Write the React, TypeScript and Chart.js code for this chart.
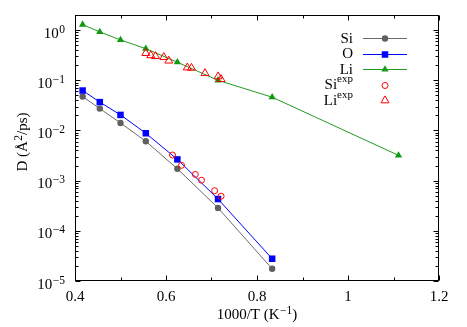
import React, { useEffect, useRef } from 'react';
import { Chart, registerables } from 'chart.js';
Chart.register(...registerables);

// ---- data (1000/T in 1/K, D in A^2/ps) ----
const simX = [0.4167, 0.4545, 0.5, 0.5556, 0.625, 0.7143, 0.8333];
const siY = [0.0474, 0.0273, 0.0141, 0.00608, 0.00172, 2.86e-4, 1.75e-5];
const oY = [0.0625, 0.0367, 0.0204, 0.0088, 0.00265, 4.3e-4, 2.78e-5];
const liX = [0.4167, 0.4545, 0.5, 0.5556, 0.625, 0.7143, 0.8333, 1.1111];
const liY = [1.29, 0.92, 0.637, 0.427, 0.229, 0.1, 0.046, 0.00319];
const siExpX = [0.6143, 0.6341, 0.6644, 0.678, 0.7068, 0.7211];
const siExpY = [0.00324, 0.00202, 0.00133, 0.00102, 6.3e-4, 4.9e-4];
const liExpX = [0.5556, 0.5666, 0.5769, 0.5952, 0.6062, 0.6468, 0.656, 0.6857, 0.7145, 0.7209];
const liExpY = [0.347, 0.313, 0.302, 0.288, 0.245, 0.179, 0.176, 0.138, 0.119, 0.105];

const legendNames = ['Si', 'O', 'Li', 'Si', 'Li'];
const legendSups = ['', '', '', 'exp', 'exp'];

const xTickValues = [0.4, 0.6, 0.8, 1.0, 1.2];
const xMinorValues = [0.5, 0.7, 0.9, 1.1];
const yDecades = [-5, -4, -3, -2, -1, 0];
const yTickBase = '10';

// rich text: [text, isSuperscript]
const xTitleParts: [string, boolean][] = [['1000/T (K', false], ['−1', true], [')', false]];
const yTitleParts: [string, boolean][] = [['D (Å', false], ['2', true], ['/ps)', false]];

const FONT = "'Liberation Serif', 'Times New Roman', serif";
const MAIN = 15;
const SUPSZ = 11.5;

const pts = (xs: number[], ys: number[]) => xs.map((x, i) => ({ x, y: ys[i] }));

function richWidth(ctx: CanvasRenderingContext2D, parts: [string, boolean][]) {
  let w = 0;
  parts.forEach(([t, s]) => {
    ctx.font = `${s ? SUPSZ : MAIN}px ${FONT}`;
    w += ctx.measureText(t).width + (s ? 0.5 : 0);
  });
  return w;
}

// draws parts starting at x (left), baseline y
function drawRich(ctx: CanvasRenderingContext2D, parts: [string, boolean][], x: number, y: number) {
  ctx.textAlign = 'left';
  ctx.textBaseline = 'alphabetic';
  let cx = x;
  parts.forEach(([t, s]) => {
    ctx.font = `${s ? SUPSZ : MAIN}px ${FONT}`;
    ctx.fillText(t, cx + (s ? 0.5 : 0), s ? y - 5 : y);
    cx += ctx.measureText(t).width + (s ? 0.5 : 0);
  });
}

function drawMarker(ctx: CanvasRenderingContext2D, style: string, r: number, x: number, y: number, fill: string, stroke: string, filled: boolean) {
  ctx.beginPath();
  if (style === 'circle') {
    ctx.arc(x, y, r, 0, Math.PI * 2);
  } else if (style === 'rect') {
    const s = Math.SQRT1_2 * r;
    ctx.rect(x - s, y - s, 2 * s, 2 * s);
  } else if (style === 'triangle') {
    ctx.moveTo(x, y - r);
    ctx.lineTo(x + 0.866 * r, y + 0.5 * r);
    ctx.lineTo(x - 0.866 * r, y + 0.5 * r);
    ctx.closePath();
  }
  if (filled) {
    ctx.fillStyle = fill;
    ctx.fill();
  } else {
    ctx.strokeStyle = stroke;
    ctx.lineWidth = 1;
    ctx.stroke();
  }
}

const framePlugin = {
  id: 'frame',
  afterDatasetsDraw(chart: any) {
    const { ctx, chartArea: a, scales } = chart;
    const xs = scales.x;
    const ys = scales.y;
    ctx.save();
    ctx.strokeStyle = '#000';
    ctx.lineWidth = 1;
    const L = Math.round(a.left) + 0.5;
    const R = Math.round(a.right) - 0.5;
    const T = Math.round(a.top) + 0.5;
    const B = Math.round(a.bottom) - 0.5;
    ctx.strokeRect(L, T, R - L, B - T);
    const vtick = (v: number, len: number) => {
      const px = Math.round(xs.getPixelForValue(v)) + 0.5;
      ctx.beginPath();
      ctx.moveTo(px, B); ctx.lineTo(px, B - len);
      ctx.moveTo(px, T); ctx.lineTo(px, T + len);
      ctx.stroke();
    };
    const htick = (v: number, len: number) => {
      const py = Math.round(ys.getPixelForValue(v)) + 0.5;
      ctx.beginPath();
      ctx.moveTo(L, py); ctx.lineTo(L + len, py);
      ctx.moveTo(R, py); ctx.lineTo(R - len, py);
      ctx.stroke();
    };
    xTickValues.forEach((v) => vtick(v, 5));
    xMinorValues.forEach((v) => vtick(v, 3));
    yDecades.forEach((d) => {
      htick(Math.pow(10, d), 5);
      for (let k = 2; k <= 9; k++) {
        const v = k * Math.pow(10, d);
        if (v < ys.max) htick(v, 3);
      }
    });

    ctx.fillStyle = '#000';
    // y tick labels: 10^n
    yDecades.forEach((d) => {
      const py = ys.getPixelForValue(Math.pow(10, d));
      const parts: [string, boolean][] = [[yTickBase, false], [(d < 0 ? '−' : '') + String(Math.abs(d)), true]];
      const w = richWidth(ctx, parts);
      drawRich(ctx, parts, a.left - 10 - w, py + 7.5);
    });

    // x title
    const xw = richWidth(ctx, xTitleParts);
    drawRich(ctx, xTitleParts, (a.left + a.right) / 2 - xw / 2, 319);

    // y title (rotated)
    const yw = richWidth(ctx, yTitleParts);
    ctx.save();
    ctx.translate(26.5, (a.top + a.bottom) / 2 - 6);
    ctx.rotate(-Math.PI / 2);
    drawRich(ctx, yTitleParts, -yw / 2, 0);
    ctx.restore();

    // legend
    const rx = a.right - 86;
    chart.data.datasets.forEach((ds: any, i: number) => {
      const y = a.top + 23 + i * 15.5;
      ctx.fillStyle = '#000';
      ctx.textBaseline = 'middle';
      ctx.textAlign = 'right';
      let tx = rx;
      if (legendSups[i]) {
        ctx.font = `11px ${FONT}`;
        const w = ctx.measureText(legendSups[i]).width;
        ctx.fillText(legendSups[i], rx, y - 5);
        tx = rx - w;
      }
      ctx.font = `15px ${FONT}`;
      ctx.fillText(legendNames[i], tx, y + 1);
      const ly = Math.round(y) + 0.5;
      if (ds.showLine) {
        ctx.strokeStyle = ds.borderColor;
        ctx.lineWidth = 1;
        ctx.beginPath();
        ctx.moveTo(a.right - 76, ly);
        ctx.lineTo(a.right - 32, ly);
        ctx.stroke();
      }
      drawMarker(ctx, ds.pointStyle, ds.pointRadius, a.right - 54, ly, ds.pointBackgroundColor, ds.pointBorderColor, ds.showLine);
    });
    ctx.restore();
  },
};

export default function App() {
  const ref = useRef<HTMLCanvasElement>(null);
  useEffect(() => {
    const tickFont = { family: FONT, size: MAIN };
    const chart = new Chart(ref.current as HTMLCanvasElement, {
      type: 'scatter',
      data: {
        datasets: [
          {
            label: 'Si', data: pts(simX, siY), showLine: true, borderColor: '#6a6a6a', borderWidth: 1,
            pointStyle: 'circle', pointRadius: 3.2, pointBackgroundColor: '#606060', pointBorderColor: '#606060', pointBorderWidth: 0, order: 5,
          },
          {
            label: 'O', data: pts(simX, oY), showLine: true, borderColor: '#0000ff', borderWidth: 1,
            pointStyle: 'rect', pointRadius: 4.6, pointBackgroundColor: '#0000ff', pointBorderColor: '#0000ff', pointBorderWidth: 0, order: 4,
          },
          {
            label: 'Li', data: pts(liX, liY), showLine: true, borderColor: '#229a22', borderWidth: 1,
            pointStyle: 'triangle', pointRadius: 4.2, pointBackgroundColor: '#119911', pointBorderColor: '#119911', pointBorderWidth: 0, order: 3,
          },
          {
            label: 'Si exp', data: pts(siExpX, siExpY), showLine: false, borderColor: '#ff0000',
            pointStyle: 'circle', pointRadius: 3, pointBackgroundColor: 'rgba(0,0,0,0)', pointBorderColor: '#ff0000', pointBorderWidth: 1, order: 2,
          },
          {
            label: 'Li exp', data: pts(liExpX, liExpY), showLine: false, borderColor: '#ff0000',
            pointStyle: 'triangle', pointRadius: 4.6, pointBackgroundColor: 'rgba(0,0,0,0)', pointBorderColor: '#ff0000', pointBorderWidth: 1, order: 1,
          },
        ] as any,
      },
      options: {
        responsive: false,
        animation: false,
        events: [],
        layout: { padding: { left: 0, top: 15, right: 28, bottom: 0 } },
        plugins: { legend: { display: false }, tooltip: { enabled: false } },
        scales: {
          x: {
            type: 'linear', min: 0.4, max: 1.2,
            afterBuildTicks: (s: any) => { s.ticks = xTickValues.map((v) => ({ value: v })); },
            afterFit: (s: any) => { s.height = 46; },
            ticks: {
              font: tickFont, color: '#000', padding: 7, maxRotation: 0, autoSkip: false,
              callback: (v: any) => String(Number(Number(v).toFixed(1))),
            },
            grid: { display: false, drawTicks: false },
            border: { display: false },
            title: { display: false },
          },
          y: {
            type: 'logarithmic', min: 1e-5, max: 2,
            afterBuildTicks: (s: any) => { s.ticks = yDecades.map((d) => ({ value: Math.pow(10, d), major: true })); },
            afterFit: (s: any) => { s.width = 75; },
            ticks: { display: false },
            grid: { display: false, drawTicks: false },
            border: { display: false },
            title: { display: false },
          },
        },
      } as any,
      plugins: [framePlugin],
    });
    return () => chart.destroy();
  }, []);
  return (
    <div style={{ position: 'absolute', left: 0, top: 0, width: 467, height: 327, background: '#fff' }}>
      <canvas ref={ref} width={467} height={327} style={{ display: 'block' }} />
    </div>
  );
}
